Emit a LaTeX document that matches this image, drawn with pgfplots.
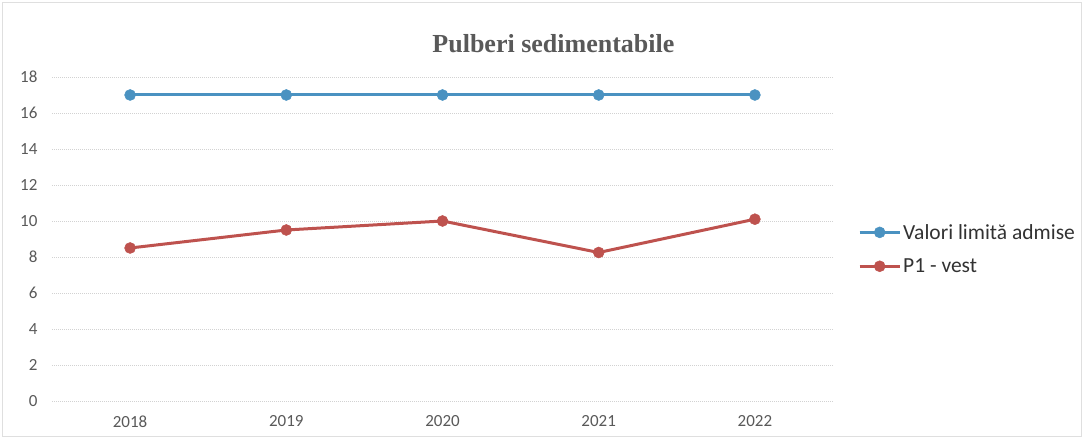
\documentclass[border=0pt]{standalone}
\usepackage{pgfplots}
\pgfplotsset{compat=1.18}
\usepackage{fontspec}
\setmainfont{Carlito}
\newfontfamily\titlefont{Liberation Serif}
\definecolor{cblue}{RGB}{74,146,193}
\definecolor{cred}{RGB}{190,82,78}
\definecolor{txt}{RGB}{89,89,89}
\definecolor{legtxt}{RGB}{50,50,50}
\begin{document}
\begin{tikzpicture}[x=1pt,y=1pt]
\path (0,0) rectangle (1083,438);
\draw[gray!25, line width=0.8pt] (2,2) rectangle (1081,436);
\begin{axis}[
  at={(52pt,37pt)}, anchor=south west,
  scale only axis, width=781pt, height=324pt,
  xmin=-0.5, xmax=4.5, ymin=0, ymax=18,
  xtick={0,1,2,3,4}, xticklabels={2018,2019,2020,2021,2022},
  ytick={0,2,...,18},
  axis line style={draw=none},
  major tick length=0pt,
  ymajorgrids, grid style={gray!35, dash pattern=on 1pt off 1pt, line width=0.6pt},
  tick label style={font=\fontsize{17}{19}\selectfont, text=txt},
  /pgf/number format/assume math mode=true,
  xticklabel style={yshift=-11pt},
  yticklabel style={xshift=-11pt},
  title={\titlefont\bfseries\fontsize{26}{30}\selectfont Pulberi sedimentabile},
  title style={text=txt, at={(0.642,1)}, yshift=15pt, anchor=south},
  legend style={at={(1.032,0.469)}, anchor=west, draw=none, fill=none,
    font=\fontsize{21.5}{25}\selectfont, text=legtxt, row sep=14pt, inner sep=0pt,
    /tikz/every even column/.append style={column sep=2pt}},
  legend cell align=left,
  legend image code/.code={\draw[mark repeat=2,mark phase=2] plot coordinates {(0pt,0pt)(20pt,0pt)(40pt,0pt)};},
  clip=false,
]
\addplot[color=cblue, line width=3pt, mark=*, mark size=5.5pt, mark options={line width=0.5pt}] coordinates {(0,17) (1,17) (2,17) (3,17) (4,17)};
\addlegendentry{Valori limită admise}
\addplot[color=cred, line width=3pt, mark=*, mark size=5.5pt, mark options={line width=0.5pt}] coordinates {(0,8.5) (1,9.5) (2,10.0) (3,8.25) (4,10.1)};
\addlegendentry{P1 - vest}
\end{axis}
\end{tikzpicture}
\end{document}
